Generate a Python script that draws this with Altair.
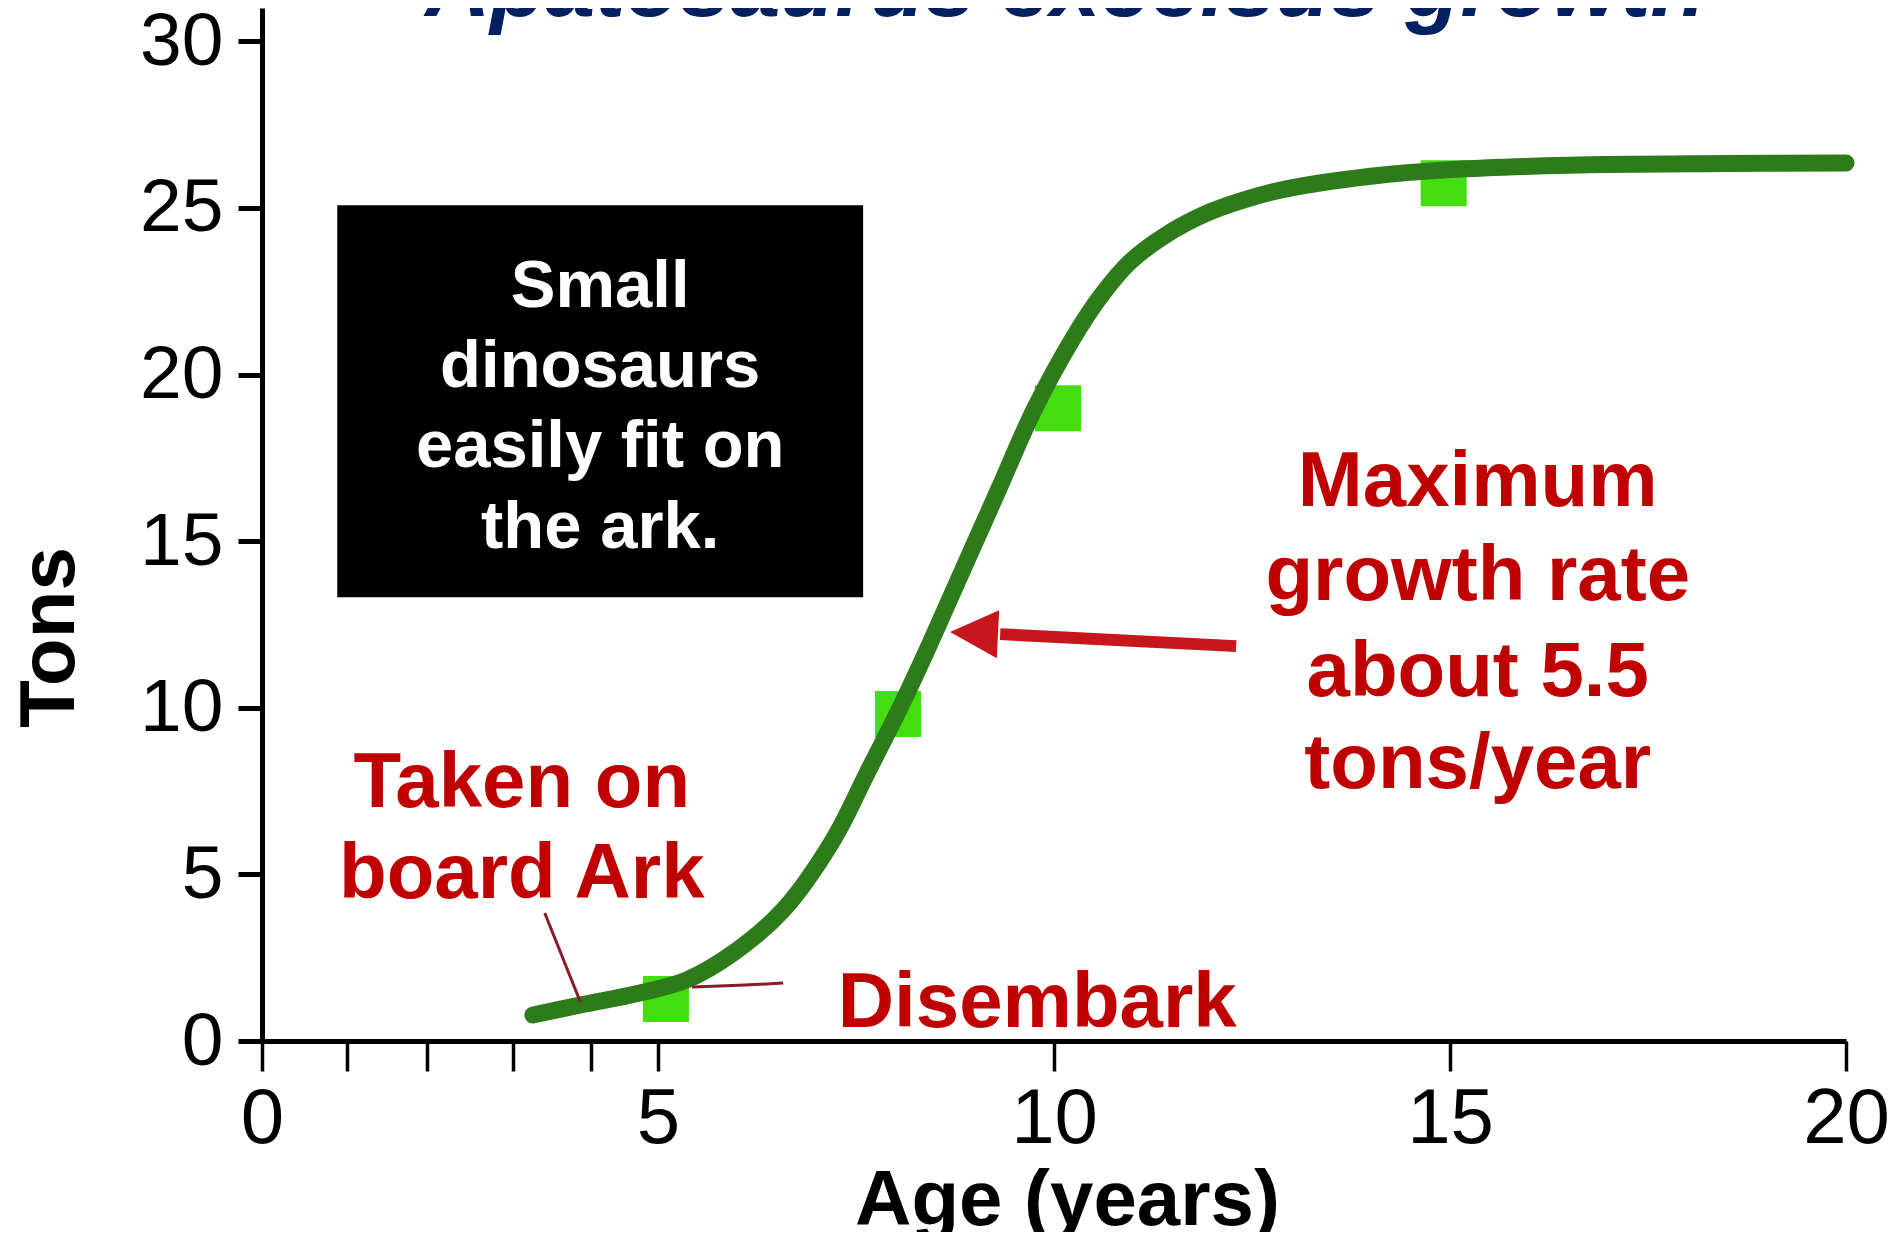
import altair as alt
import pandas as pd

# ---- data ----
age_curve = [3.42, 4.02, 4.77, 5.36, 5.95, 6.58, 7.21, 7.64, 8.06, 8.40, 8.70, 9.00,
             9.30, 9.75, 10.23, 10.60, 10.96, 11.40, 11.92, 12.40, 12.89, 14.0, 15.0,
             16.5, 18.5, 20.0]
tons_curve = [0.78, 1.08, 1.44, 1.83, 2.64, 3.93, 6.03, 8.04, 10.02, 11.75, 13.35, 14.95,
              16.55, 18.95, 21.05, 22.38, 23.38, 24.17, 24.83, 25.24, 25.55, 25.95, 26.15,
              26.28, 26.33, 26.35]

age_obs = [5.1, 8.03, 10.05, 14.92]
tons_obs = [1.26, 9.81, 18.99, 25.74]

x_ticks = [0, 1.07, 2.08, 3.17, 4.15, 5, 10, 15, 20]
y_ticks = [0, 5, 10, 15, 20, 25, 30]

title_text = ["Apatosaurus excelsus growth"]
title_x = [2.06]
title_y = [30.75]

box_lines = ["Small", "dinosaurs", "easily fit on", "the ark."]
box_line_x = [4.27, 4.27, 4.27, 4.27]
box_line_y = [22.02, 19.62, 17.22, 14.79]
box_x, box_x2, box_y, box_y2 = [0.95], [7.59], [13.32], [25.08]

red_lines = ["Taken on", "board Ark", "Maximum", "growth rate", "about 5.5", "tons/year"]
red_x = [3.28, 3.28, 15.35, 15.35, 15.35, 15.35]
red_y = [7.02, 4.29, 16.05, 13.23, 10.35, 7.59]

dis_text, dis_x, dis_y = ["Disembark"], [7.27], [0.42]

ptr_id = ["a", "a", "b", "b", "b", "b"]
ptr_x = [3.57, 4.02, 5.43, 5.78, 6.10, 6.58]
ptr_y = [3.84, 1.17, 1.62, 1.65, 1.68, 1.74]

shaft_x, shaft_x2, shaft_y, shaft_y2 = [9.32], [12.30], [12.21], [11.85]
head_x, head_y = [8.99], [12.24]

FONT = "Liberation Sans"
RED = "#c00000"

xscale = alt.Scale(domain=[0, 20], nice=False, zero=False)
yscale = alt.Scale(domain=[0, 31], nice=False, zero=False)

xaxis = alt.Axis(
    values=x_ticks, format="d",
    labelExpr="datum.value % 5 == 0 ? datum.label : ''",
    title="Age (years)", grid=False,
    domainColor="black", domainWidth=5,
    tickColor="black", tickWidth=3.5, tickSize=30,
    labelFont=FONT, labelFontSize=78, labelColor="black", labelPadding=9,
    labelOverlap=False, labelFlush=False, labelBound=False,
    titleFont=FONT, titleFontSize=78, titleFontWeight="bold", titleColor="black",
    titleX=805, titleY=183, titleAlign="center", titleBaseline="alphabetic",
)
yaxis = alt.Axis(
    values=y_ticks, format="d",
    title="Tons", grid=False,
    domainColor="black", domainWidth=5,
    tickColor="black", tickWidth=5, tickSize=24,
    labelFont=FONT, labelFontSize=75, labelColor="black", labelPadding=15,
    labelOverlap=False, labelFlush=False, labelBound=False,
    titleFont=FONT, titleFontSize=78, titleFontWeight="bold", titleColor="black",
    titleAngle=270, titleX=-189, titleY=629, titleAlign="center", titleBaseline="alphabetic",
)

X = alt.X("x:Q", scale=xscale, axis=xaxis)
Y = alt.Y("y:Q", scale=yscale, axis=yaxis)

curve_df = pd.DataFrame({"x": age_curve, "y": tons_curve})
obs_df = pd.DataFrame({"x": age_obs, "y": tons_obs})
box_df = pd.DataFrame({"x": box_x, "x2": box_x2, "y": box_y, "y2": box_y2})
box_text_df = pd.DataFrame({"x": box_line_x, "y": box_line_y, "t": box_lines})
red_df = pd.DataFrame({"x": red_x, "y": red_y, "t": red_lines})
dis_df = pd.DataFrame({"x": dis_x, "y": dis_y, "t": dis_text})
ptr_df = pd.DataFrame({"x": ptr_x, "y": ptr_y, "id": ptr_id})
shaft_df = pd.DataFrame({"x": shaft_x, "x2": shaft_x2, "y": shaft_y, "y2": shaft_y2})
head_df = pd.DataFrame({"x": head_x, "y": head_y})
title_df = pd.DataFrame({"x": title_x, "y": title_y, "t": title_text})

box = alt.Chart(box_df).mark_rect(color="black").encode(
    x=X, x2="x2:Q", y=Y, y2="y2:Q")

squares = alt.Chart(obs_df).mark_point(
    shape="square", filled=True, size=2116, color="#44dd11", opacity=1
).encode(x=X, y=Y)

line = alt.Chart(curve_df).mark_line(
    color="#2e7b1c", strokeWidth=17, strokeCap="round", strokeJoin="round",
    interpolate="catmull-rom"
).encode(x=X, y=Y, order="x:Q")

pointers = alt.Chart(ptr_df).mark_line(color="#8a1a2a", strokeWidth=3).encode(
    x=X, y=Y, detail="id:N")

shaft = alt.Chart(shaft_df).mark_rule(color="#c8161d", strokeWidth=12).encode(
    x=X, x2="x2:Q", y=Y, y2="y2:Q")

head = alt.Chart(head_df).mark_point(
    shape="M-1,0L1,-1L1,1Z", filled=True, size=2304, color="#c8161d",
    opacity=1, angle=2.8
).encode(x=X, y=Y)

box_text = alt.Chart(box_text_df).mark_text(
    font=FONT, fontSize=67, fontWeight="bold", color="white",
    align="center", baseline="alphabetic"
).encode(x=X, y=Y, text="t:N")

red_text = alt.Chart(red_df).mark_text(
    font=FONT, fontSize=78, fontWeight="bold", color=RED,
    align="center", baseline="alphabetic"
).encode(x=X, y=Y, text="t:N")

dis = alt.Chart(dis_df).mark_text(
    font=FONT, fontSize=78, fontWeight="bold", color=RED,
    align="left", baseline="alphabetic"
).encode(x=X, y=Y, text="t:N")

title = alt.Chart(title_df).mark_text(
    font=FONT, fontSize=90, fontWeight="bold", fontStyle="italic", color="#002060",
    align="left", baseline="alphabetic", clip=True
).encode(x=X, y=Y, text="t:N")

chart = alt.layer(
    box, squares, line, pointers, shaft, head, box_text, red_text, dis, title
).properties(
    width=1584, height=1033,
    padding={"left": 254, "top": 0, "right": 48, "bottom": 191},
    autosize=alt.AutoSizeParams(type="none"),
    background="white",
).configure_view(stroke="transparent")

chart.save("out.html", embed_options={"renderer": "svg", "actions": False})
